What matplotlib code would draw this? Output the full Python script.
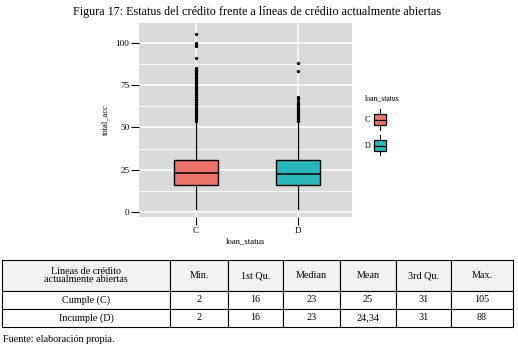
import matplotlib.pyplot as plt
from matplotlib.patches import Rectangle

plt.rcParams['font.family'] = ['Liberation Serif', 'DejaVu Serif']

# box statistics
groups = ['C', 'D']
q1 = [16, 16]
med = [23, 22.5]
q3 = [31, 31]
whis_lo = [2, 2]
whis_hi = [53, 53]
fliers_c = [54, 55, 56, 57, 58, 59, 60, 61, 62, 63, 64, 65, 66, 67, 68, 69, 70,
            71, 72, 73, 74, 75, 76, 77, 78, 79, 80, 81, 82, 83, 84, 85, 91, 98,
            99, 100, 105]
fliers_d = [54, 55, 56, 57, 58, 59, 60, 61, 62, 63, 64, 65, 67, 68, 83, 88]
colors = ['#EC7369', '#2BB7BA']

# summary table
tab_header = ['Líneas de crédito\nactualmente abiertas', 'Min.', '1st Qu.',
              'Median', 'Mean', '3rd Qu.', 'Max.']
tab_rows = ['Cumple (C)', 'Incumple (D)']
t_min = ['2', '2']
t_q1 = ['16', '16']
t_med = ['23', '23']
t_mean = ['25', '24,34']
t_q3 = ['31', '31']
t_max = ['105', '88']

W, H = 518, 351
fig = plt.figure(figsize=(W / 100, H / 100), dpi=100)

fig.text(257 / W, 1 - 12 / H,
         'Figura 17: Estatus del crédito frente a líneas de crédito actualmente abiertas',
         ha='center', va='center', fontsize=8.7)

# boxplot panel
ax = fig.add_axes([139 / W, 1 - 217 / H, 213 / W, 194 / H])
ax.set_facecolor('#DADADA')
stats = []
for i in range(2):
    stats.append({'q1': q1[i], 'med': med[i], 'q3': q3[i],
                  'whislo': whis_lo[i], 'whishi': whis_hi[i],
                  'fliers': [fliers_c, fliers_d][i]})
bp = ax.bxp(stats, positions=[1, 2], widths=0.43, patch_artist=True,
            showcaps=False, zorder=3,
            boxprops=dict(linewidth=1.0, edgecolor='black'),
            medianprops=dict(color='black', linewidth=1.1),
            whiskerprops=dict(color='black', linewidth=0.9),
            flierprops=dict(marker='o', markersize=2.4, markerfacecolor='black',
                            markeredgewidth=0, linestyle='none'))
for patch, c in zip(bp['boxes'], colors):
    patch.set_facecolor(c)

ax.set_xlim(0.447, 2.523)
ax.set_ylim(-2.8, 111.6)
ax.set_xticks([1, 2])
ax.set_xticklabels(groups)
ax.set_yticks([0, 25, 50, 75, 100])
ax.set_yticks([12.5, 37.5, 62.5, 87.5], minor=True)
ax.grid(True, which='major', color='white', linewidth=1.1, zorder=0)
ax.grid(True, which='minor', axis='y', color='white', linewidth=0.6, zorder=0)
ax.set_axisbelow(True)
for s in ax.spines.values():
    s.set_visible(False)
ax.tick_params(axis='both', which='major', length=5.5, width=0.8,
               labelsize=6.6, pad=1.5, color='black')
ax.tick_params(axis='y', which='minor', length=0)

fig.text(105.5 / W, 1 - 120 / H, 'total_acc', rotation=90,
         ha='center', va='center', fontsize=6)
fig.text(245 / W, 1 - 241.5 / H, 'loan_status', ha='center', va='center',
         fontsize=6.2)

# legend
fig.text(365 / W, 1 - 98.5 / H, 'loan_status', ha='left', va='center',
         fontsize=5.6)
lax = fig.add_axes([372 / W, 1 - 156 / H, 16 / W, 50 / H])
lax.set_xlim(0, 16)
lax.set_ylim(156, 106)
lax.axis('off')
for i, (g, c) in enumerate(zip(groups, colors)):
    yc = 119.5 + i * 26
    lax.plot([8, 8], [yc - 11, yc + 10], color='black', linewidth=0.8)
    lax.add_patch(Rectangle((2, yc - 5.5), 12, 11, facecolor=c,
                            edgecolor='black', linewidth=0.9, zorder=3))
    lax.plot([2, 14], [yc, yc], color='black', linewidth=0.9, zorder=4)
    fig.text(367.7 / W, 1 - yc / H, g, ha='center', va='center', fontsize=5.8)

# table
tax = fig.add_axes([2 / W, 1 - 327 / H, 511 / W, 67 / H])
tax.axis('off')
cell_text = [[tab_rows[i], t_min[i], t_q1[i], t_med[i], t_mean[i], t_q3[i],
              t_max[i]] for i in range(2)]
col_w = [168, 58, 55, 57, 56, 55, 62]
tbl = tax.table(cellText=cell_text, colLabels=tab_header,
                colWidths=[w / sum(col_w) for w in col_w],
                cellLoc='center', colLoc='center', bbox=[0, 0, 1, 1])
tbl.auto_set_font_size(False)
row_h = [31, 18, 18]
for (r, cidx), cell in tbl.get_celld().items():
    cell.set_height(row_h[r] / sum(row_h))
    cell.set_linewidth(0.8)
    cell.get_text().set_fontsize(7.3)
    if r == 0:
        cell.set_facecolor('#F2F2F2')
        cell.get_text().set_linespacing(1.0)

fig.text(3 / W, 1 - 339 / H, 'Fuente: elaboración propia.', ha='left',
         va='center', fontsize=7.3)

fig.savefig('out.png', dpi=100)
